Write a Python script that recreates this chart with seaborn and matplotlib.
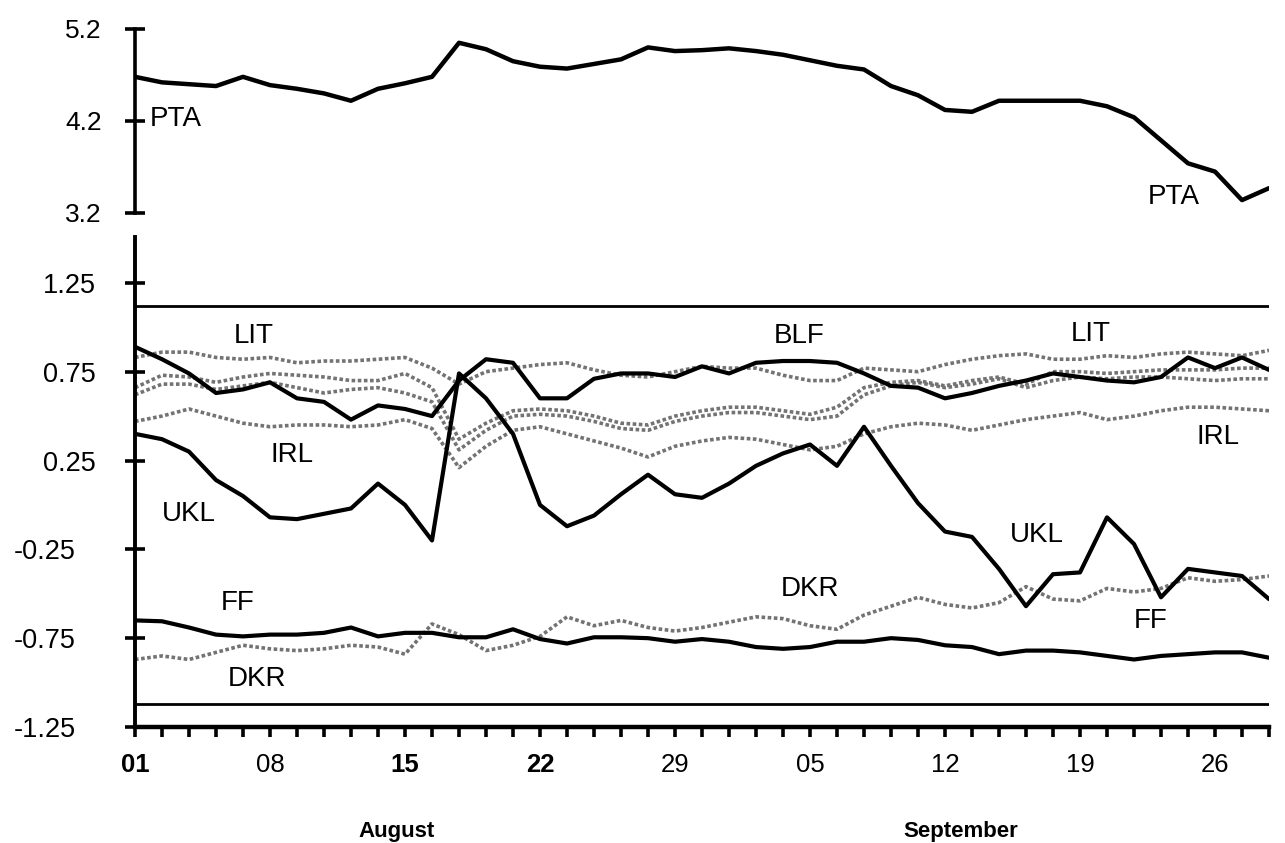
import numpy as np
import pandas as pd
import seaborn as sns
import matplotlib.pyplot as plt
from matplotlib import transforms

# trading days from 01 August to 30 September
days = list(range(43))
date_labels = ['01', '08', '15', '22', '29', '05', '12', '19', '26']
month_labels = ['August', 'September']

pta = [4.68, 4.62, 4.60, 4.58, 4.68, 4.59, 4.55, 4.50, 4.42, 4.55, 4.61,
       4.68, 5.05, 4.98, 4.85, 4.79, 4.77, 4.82, 4.87, 5.00, 4.96, 4.97,
       4.99, 4.96, 4.92, 4.86, 4.80, 4.76, 4.58, 4.48, 4.32, 4.30, 4.42,
       4.42, 4.42, 4.42, 4.36, 4.24, 3.99, 3.74, 3.65, 3.34, 3.47]

blf = [0.89, 0.82, 0.74, 0.63, 0.65, 0.69, 0.60, 0.58, 0.48, 0.56, 0.54,
       0.50, 0.70, 0.82, 0.80, 0.60, 0.60, 0.71, 0.74, 0.74, 0.72, 0.78,
       0.74, 0.80, 0.81, 0.81, 0.80, 0.74, 0.67, 0.66, 0.60, 0.63, 0.67,
       0.70, 0.74, 0.72, 0.70, 0.69, 0.72, 0.83, 0.77, 0.83, 0.76]

ukl = [0.40, 0.37, 0.30, 0.14, 0.05, -0.07, -0.08, -0.05, -0.02, 0.12, 0.00,
       -0.20, 0.74, 0.60, 0.40, 0.00, -0.12, -0.06, 0.06, 0.17, 0.06, 0.04,
       0.12, 0.22, 0.29, 0.34, 0.22, 0.44, 0.22, 0.01, -0.15, -0.18, -0.36,
       -0.57, -0.39, -0.38, -0.07, -0.22, -0.52, -0.36, -0.38, -0.40, -0.53]

ff = [-0.65, -0.655, -0.69, -0.73, -0.74, -0.73, -0.73, -0.72, -0.69, -0.74,
      -0.72, -0.72, -0.745, -0.745, -0.70, -0.755, -0.78, -0.745, -0.745,
      -0.75, -0.77, -0.755, -0.77, -0.80, -0.81, -0.80, -0.77, -0.77, -0.75,
      -0.76, -0.79, -0.80, -0.84, -0.82, -0.82, -0.83, -0.85, -0.87, -0.85,
      -0.84, -0.83, -0.83, -0.86]

lit = [0.83, 0.86, 0.86, 0.83, 0.82, 0.83, 0.80, 0.81, 0.81, 0.82, 0.83,
       0.77, 0.68, 0.75, 0.77, 0.79, 0.80, 0.76, 0.73, 0.72, 0.75, 0.78,
       0.77, 0.77, 0.73, 0.70, 0.70, 0.77, 0.76, 0.75, 0.79, 0.82, 0.84,
       0.85, 0.82, 0.82, 0.84, 0.83, 0.85, 0.86, 0.85, 0.84, 0.87]

mid_a = [0.66, 0.73, 0.72, 0.69, 0.72, 0.74, 0.73, 0.72, 0.70, 0.70, 0.74,
         0.66, 0.37, 0.46, 0.53, 0.54, 0.53, 0.50, 0.46, 0.45, 0.50, 0.53,
         0.55, 0.55, 0.53, 0.51, 0.55, 0.66, 0.69, 0.70, 0.67, 0.70, 0.72,
         0.68, 0.75, 0.75, 0.74, 0.75, 0.76, 0.76, 0.76, 0.77, 0.77]

mid_b = [0.62, 0.68, 0.68, 0.65, 0.67, 0.69, 0.66, 0.63, 0.65, 0.66, 0.63,
         0.58, 0.31, 0.42, 0.50, 0.51, 0.50, 0.47, 0.43, 0.42, 0.47, 0.50,
         0.52, 0.52, 0.50, 0.48, 0.50, 0.62, 0.67, 0.69, 0.66, 0.68, 0.71,
         0.66, 0.70, 0.72, 0.71, 0.72, 0.72, 0.71, 0.70, 0.71, 0.71]

irl = [0.47, 0.50, 0.54, 0.50, 0.46, 0.44, 0.45, 0.45, 0.44, 0.45, 0.48,
       0.43, 0.21, 0.33, 0.42, 0.44, 0.40, 0.36, 0.32, 0.27, 0.33, 0.36,
       0.38, 0.37, 0.34, 0.31, 0.33, 0.40, 0.44, 0.46, 0.45, 0.42, 0.45,
       0.48, 0.50, 0.52, 0.48, 0.50, 0.53, 0.55, 0.55, 0.54, 0.53]

dkr = [-0.87, -0.85, -0.87, -0.83, -0.79, -0.81, -0.82, -0.81, -0.79, -0.80,
       -0.84, -0.67, -0.73, -0.82, -0.79, -0.74, -0.63, -0.68, -0.65, -0.69,
       -0.71, -0.69, -0.66, -0.63, -0.64, -0.68, -0.70, -0.62, -0.57, -0.52,
       -0.56, -0.58, -0.55, -0.46, -0.53, -0.54, -0.47, -0.49, -0.47, -0.41,
       -0.43, -0.42, -0.40]

band_limits = [1.12, -1.12]


def long_frame(series):
    frames = []
    for name, values in series.items():
        frames.append(pd.DataFrame({'day': days, 'value': values, 'series': name}))
    return pd.concat(frames, ignore_index=True)


sns.set_style('white')
plt.rcParams['font.family'] = ['Liberation Sans', 'DejaVu Sans']
plt.rcParams['text.color'] = 'black'
plt.rcParams['xtick.color'] = 'black'
plt.rcParams['ytick.color'] = 'black'
plt.rcParams['axes.edgecolor'] = 'black'
plt.rcParams['lines.solid_joinstyle'] = 'round'

W, H = 1285, 843
fig = plt.figure(figsize=(W / 100, H / 100), dpi=100)
ax_top = fig.add_axes([135 / W, 1 - 213 / H, 1134 / W, 184 / H])
ax_bot = fig.add_axes([135 / W, 1 - 727 / H, 1134 / W, 490 / H])

# top panel: PTA
top_data = long_frame({'PTA': pta})
sns.lineplot(data=top_data, x='day', y='value', color='black', linewidth=3.2,
             ax=ax_top, legend=False, errorbar=None)
ax_top.set_xlim(0, 42)
ax_top.set_ylim(3.2, 5.2)
for side in ['top', 'right', 'bottom']:
    ax_top.spines[side].set_visible(False)
ax_top.spines['left'].set_linewidth(2.6)
ax_top.set_xticks([])
ax_top.set_yticks([3.2, 4.2, 5.2])
ax_top.set_yticklabels(['3.2', '4.2', '5.2'])
ax_top.tick_params(axis='y', left=True, direction='inout', length=14,
                   width=2.6, pad=17, labelsize=19, labelcolor='black')
ax_top.set_xlabel('')
ax_top.set_ylabel('')
ax_top.text(0.55, 4.22, 'PTA', fontsize=20, ha='left', va='center')
ax_top.text(37.5, 3.37, 'PTA', fontsize=20, ha='left', va='center')

# bottom panel: dotted series first, solid series on top
dotted = long_frame({'LIT': lit, 'MID_A': mid_a, 'MID_B': mid_b,
                     'IRL': irl, 'DKR': dkr})
solid = long_frame({'BLF': blf, 'UKL': ukl, 'FF': ff})

sns.lineplot(data=dotted, x='day', y='value', units='series', estimator=None,
             color='0.45', linewidth=2.6, linestyle=(0, (1.0, 0.7)),
             ax=ax_bot, legend=False)
sns.lineplot(data=solid, x='day', y='value', units='series', estimator=None,
             color='black', linewidth=3.0, ax=ax_bot, legend=False)

for lim in band_limits:
    ax_bot.axhline(lim, color='black', linewidth=2.0)

ax_bot.set_xlim(0, 42)
ax_bot.set_ylim(-1.25, 1.508)
for side in ['top', 'right']:
    ax_bot.spines[side].set_visible(False)
ax_bot.spines['left'].set_linewidth(2.8)
ax_bot.spines['bottom'].set_linewidth(3.2)

yt = [-1.25, -0.75, -0.25, 0.25, 0.75, 1.25]
ax_bot.set_yticks(yt)
ax_bot.set_yticklabels(['%.2f' % v for v in yt])
ax_bot.tick_params(axis='y', left=True, direction='inout', length=14,
                   width=2.6, pad=21, labelsize=19.5, labelcolor='black')
shift = transforms.ScaledTranslation(-0.2, 0, fig.dpi_scale_trans)
for lab, v in zip(ax_bot.get_yticklabels(), yt):
    if v < 0:
        lab.set_transform(lab.get_transform() + shift)

ax_bot.set_xticks(days)
ax_bot.set_xticklabels([date_labels[d // 5] if d % 5 == 0 else '' for d in days])
ax_bot.tick_params(axis='x', bottom=True, direction='out', length=7, width=2.6,
                   pad=12, labelsize=18.5, labelcolor='black')
for lab in ax_bot.get_xticklabels():
    if lab.get_text() in ('01', '15', '22'):
        lab.set_fontweight('bold')
ax_bot.set_xlabel('')
ax_bot.set_ylabel('')

labels = [('LIT', 4.4, 0.95), ('BLF', 24.6, 0.95), ('LIT', 35.4, 0.96),
          ('IRL', 5.8, 0.28), ('IRL', 40.1, 0.385), ('UKL', 2.0, -0.05),
          ('UKL', 33.4, -0.17), ('FF', 3.8, -0.55), ('FF', 37.6, -0.655),
          ('DKR', 25.0, -0.475), ('DKR', 4.5, -0.98)]
for txt, x, y in labels:
    ax_bot.text(x, y, txt, fontsize=20, ha='center', va='center')

fig.text(397 / W, 1 - 832 / H, month_labels[0], fontsize=16, weight='bold',
         ha='center', va='center')
fig.text(961 / W, 1 - 832 / H, month_labels[1], fontsize=16, weight='bold',
         ha='center', va='center')

fig.savefig('out.png', dpi=100)
